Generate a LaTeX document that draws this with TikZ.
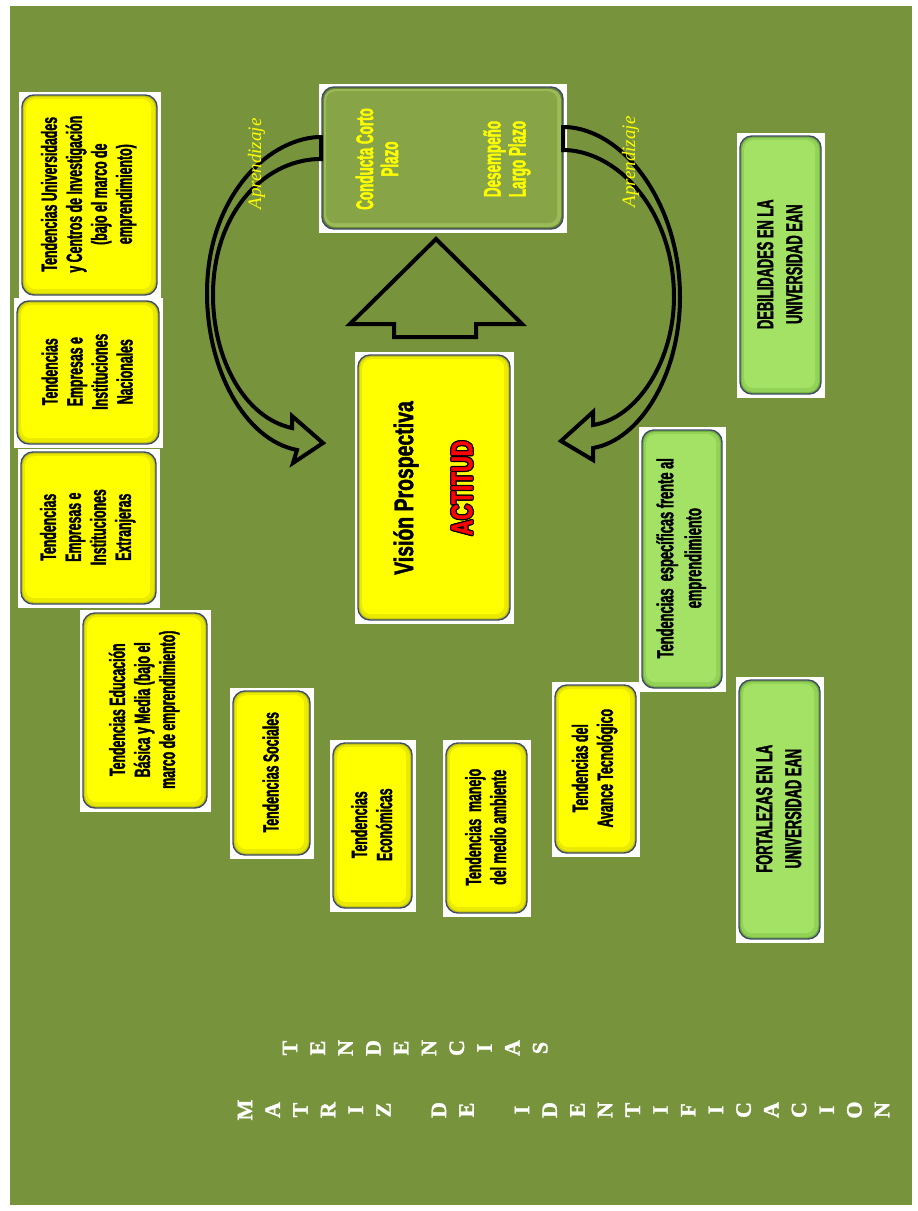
\documentclass[tikz,border=0pt]{standalone}
\usepackage{fontspec}
\setmainfont{Liberation Sans}
\newfontfamily\narrowfont[FakeStretch=0.56, FakeBold=1.6]{Liberation Sans}
\newfontfamily\wideboldfont[FakeStretch=0.72, FakeBold=1.6]{Liberation Sans}
\newfontfamily\seriffont{Liberation Serif}
\newfontfamily\heavyserif[FakeBold=1.4]{Liberation Serif}

\definecolor{pagegreen}{HTML}{77933C}
\definecolor{cardedge}{HTML}{3D4C63}
\definecolor{ylw}{HTML}{FFFF00}
\definecolor{ylwmid}{HTML}{EAEA00}
\definecolor{ylwdark}{HTML}{C8C812}
\definecolor{grn}{HTML}{A3E264}
\definecolor{grnmid}{HTML}{92D257}
\definecolor{grndark}{HTML}{78B244}
\definecolor{olv}{HTML}{87A447}
\definecolor{olvmid}{HTML}{9BBB58}
\definecolor{olvdark}{HTML}{6A8532}
\definecolor{actred}{HTML}{FF0000}

\tikzset{
  cardtext/.style={rotate=90, inner sep=0pt, align=center, text=black,
    font=\narrowfont\bfseries\fontsize{22}{25}\selectfont},
  blockarrow/.style={draw=black, line width=4pt, line join=miter, miter limit=10},
  aprend/.style={rotate=90, inner sep=0pt, text=ylw,
    font=\seriffont\itshape\fontsize{19}{20}\selectfont},
  titleletter/.style={inner sep=0pt, text=white,
    font=\heavyserif\bfseries\fontsize{22}{22}\selectfont},
  olivetext/.style={rotate=90, inner sep=0pt, align=center, text=ylw,
    font=\narrowfont\bfseries\fontsize{24}{25}\selectfont},
  visiontext/.style={rotate=90, inner sep=0pt, text=black,
    font=\wideboldfont\bfseries\fontsize{27}{30}\selectfont},
  actitudtext/.style={rotate=90, inner sep=0pt,
    font=\wideboldfont\bfseries\fontsize{30}{32}\selectfont},
}

% rounded card on a white backing: [node options]{name}{x1}{y1}{x2}{y2}{colour}{text}
\newcommand\card[8][]{%
  \fill[white] ({#3-3.5},{#4-3.5}) rectangle ({#5+3.5},{#6+3.5});
  \fill[#7dark, rounded corners=12pt] (#3,#4) rectangle (#5,#6);
  \fill[#7mid, rounded corners=11pt] ({#3+2},{#4+2}) rectangle ({#5-2},{#6-2});
  \node[cardtext, fill=#7, rounded corners=9pt,
        minimum width={(#6-#4-10)*1pt}, minimum height={(#5-#3-10)*1pt}, #1]
        (#2) at ({(#3+#5)/2-0.8},{(#4+#6)/2-0.8}) {#8};
  \draw[cardedge, line width=1.4pt, rounded corners=12pt] (#3,#4) rectangle (#5,#6);
}

\begin{document}
\begin{tikzpicture}[x=1pt, y=-1pt]
\useasboundingbox (0,0) rectangle (918,1211);
\fill[white] (0,0) rectangle (918,1211);
\fill[pagegreen] (10,6) rectangle (912,1205);

% trend cards, left column and lower row
\card{uni}{22}{95}{157}{295}{ylw}{Tendencias Universidades\\y Centros de Investigación\\(bajo el marco de\\emprendimiento)}
\card{nac}{17}{301}{159}{444}{ylw}{Tendencias\\Empresas e\\Instituciones\\Nacionales}
\card{ext}{21}{452}{156}{604}{ylw}{Tendencias\\Empresas e\\Instituciones\\Extranjeras}
\card{edu}{83}{613}{207}{808}{ylw}{Tendencias Educación\\Básica y Media (bajo el\\marco de emprendimiento)}
\card{soc}{233}{691}{310}{855}{ylw}{Tendencias Sociales}
\card{eco}{333}{743}{412}{908}{ylw}{Tendencias\\Económicas}
\card{amb}{446}{743}{527}{913}{ylw}{Tendencias\ \ manejo\\del medio ambiente}
\card{tec}{555}{685}{636}{853}{ylw}{Tendencias del\\Avance Tecnológico}

% green cards on the right
\card[font=\narrowfont\bfseries\fontsize{23}{28}\selectfont]{esp}{642}{430}{722}{688}{grn}{Tendencias\ \ específicas frente al\\emprendimiento}
\card[font=\narrowfont\bfseries\fontsize{23}{29}\selectfont]{deb}{740}{136}{821}{394}{grn}{DEBILIDADES EN LA\\UNIVERSIDAD EAN}
\card[font=\narrowfont\bfseries\fontsize{23}{29}\selectfont]{fort}{739}{680}{820}{939}{grn}{FORTALEZAS EN LA\\UNIVERSIDAD EAN}

% central cards
\card{vision}{358}{355}{510}{620}{ylw}{}
\card{plazo}{322}{87}{563}{229}{olv}{}

\node[visiontext] (vistitle) at (406,488) {Visión Prospectiva};
\foreach \dx/\dy [count=\k] in {1.3/0,-1.3/0,0/1.3,0/-1.3,0.9/0.9,-0.9/0.9,0.9/-0.9,-0.9/-0.9}
  \node[actitudtext, text=black] (actshadow\k) at ({462+\dx},{488+\dy}) {ACTITUD};
\node[actitudtext, text=actred] (actitud) at (462,488) {ACTITUD};

\node[olivetext] (corto) at (377,159) {Conducta Corto\\Plazo};
\node[olivetext] (largo) at (507,159) {Desempeño\\Largo Plazo};

% curved block arrows leaving the plazo card
\draw[blockarrow] (321,137) -- (318,137)
  .. controls (265,140) and (207,200) .. (207,293)
  .. controls (207,370) and (245,440) .. (297,450)
  -- (293,463) -- (323,443) -- (292,416) -- (292,428)
  .. controls (245,418) and (213,360) .. (213,295)
  .. controls (213,215) and (262,161) .. (318,159)
  -- (321,159) -- cycle;
\draw[blockarrow] (563,127) -- (566,127)
  .. controls (625,130) and (680,205) .. (680,297)
  .. controls (680,375) and (640,440) .. (593,448)
  -- (593,460) -- (561,441) -- (593,412) -- (593,425)
  .. controls (638,418) and (674,360) .. (674,297)
  .. controls (674,215) and (622,153) .. (566,150)
  -- (563,150) -- cycle;

% learning loop labels, set over the arrow outlines
\node[aprend] (apleft) at (256.5,164) {Aprendizaje};
\node[aprend] (apright) at (630.5,162) {Aprendizaje};

% upward block arrow between vision and plazo
\draw[blockarrow] (436,239) -- (522,324) -- (476,324) -- (476,337)
  -- (394,337) -- (394,324) -- (350,324) -- cycle;

% vertical title, one turned letter at a time
\foreach \ch [count=\i from 0] in {T,E,N,D,E,N,C,I,A,S}
  \node[titleletter] (ten\i) at ({290+27.8*\i},1048) {\rotatebox{90}{\ch}};
\foreach \s/\ch in {0/M,1/A,2/T,3/R,4/I,5/Z,7/D,8/E,10/I,11/D,12/E,13/N,14/T,15/I,16/F,17/I,18/C,19/A,20/C,21/I,22/O,23/N}
  \node[titleletter] (mat\s) at ({245+27.7*\s},1110) {\rotatebox{90}{\ch}};
\end{tikzpicture}
\end{document}
